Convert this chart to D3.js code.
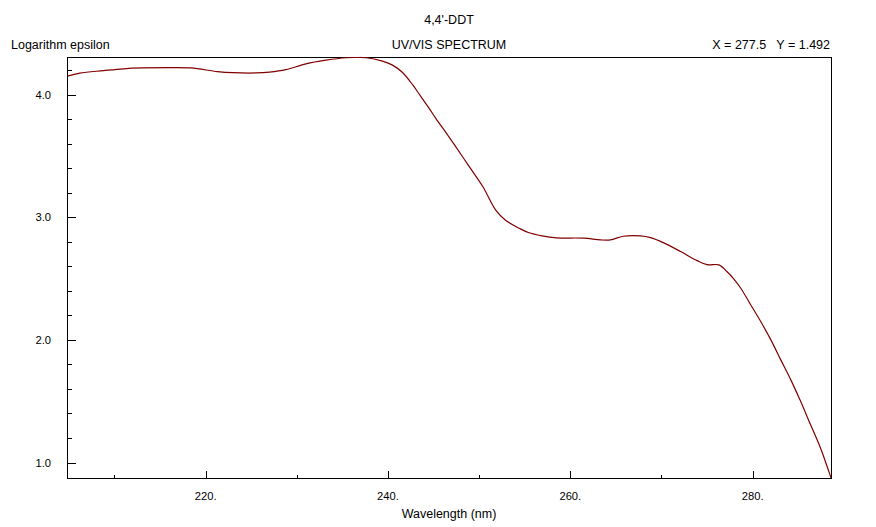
<!DOCTYPE html>
<html>
<head>
<meta charset="utf-8">
<script src="https://cdn.jsdelivr.net/npm/d3@7"></script>
<style>
  html, body { margin: 0; padding: 0; background: #fff; }
  svg { display: block; }
  text { font-family: "Liberation Sans", Arial, sans-serif; fill: #000; }
</style>
</head>
<body>
<svg id="chart" width="876" height="527"></svg>
<script>
const titleText = "4,4'-DDT";
const yLabel = "Logarithm epsilon";
const centerLabel = "UV/VIS SPECTRUM";
const cursorLabel = "X = 277.5   Y = 1.492";
const xLabel = "Wavelength (nm)";

const wavelength = [204.85, 206.2, 208.8, 211, 213, 216, 218.4, 221.3, 223, 225.5, 227, 228.8, 231, 233.2, 235.4, 236.5, 237.6, 239.4, 240.5, 241.6, 242.7, 243.6, 244.5, 245.3, 246.4, 247.3, 248.9, 250.4, 251.8, 252.9, 254.4, 255.4, 256.9, 258.5, 261.5, 263.3, 264.4, 265.8, 267.7, 268.8, 270.2, 272.1, 273.9, 275.0, 276.3, 277.2, 277.9, 278.7, 279.8, 280.9, 282.0, 283.1, 284.2, 285.2, 286.3, 287.4, 288.6];
const logEpsilon = [4.15, 4.175, 4.195, 4.21, 4.217, 4.22, 4.217, 4.187, 4.178, 4.176, 4.183, 4.203, 4.25, 4.28, 4.3, 4.302, 4.3, 4.272, 4.24, 4.18, 4.08, 3.985, 3.89, 3.8, 3.686, 3.59, 3.414, 3.25, 3.06, 2.975, 2.91, 2.875, 2.848, 2.832, 2.829, 2.815, 2.815, 2.845, 2.848, 2.834, 2.793, 2.72, 2.646, 2.613, 2.611, 2.555, 2.5, 2.421, 2.284, 2.148, 2.0, 1.835, 1.672, 1.509, 1.318, 1.127, 0.875];

const xMajorTicks = [220, 240, 260, 280];
const xMinorTicks = [210, 230, 250, 270];
const yMajorTicks = [1.0, 2.0, 3.0, 4.0];
const yMinorTicks = [1.2, 1.4, 1.6, 1.8, 2.2, 2.4, 2.6, 2.8, 3.2, 3.4, 3.6, 3.8, 4.2];

const svg = d3.select("#chart");
const L = 67.5, R = 831.5, T = 57.5, B = 478.5;

const x = d3.scaleLinear().domain([204.85, 288.65]).range([L, R]);
const y = d3.scaleLinear().domain([0.87, 4.302]).range([B, T]);

// frame
svg.append("rect").attr("x", L).attr("y", T).attr("width", R - L).attr("height", B - T)
  .attr("fill", "none").attr("stroke", "#000").attr("stroke-width", 1);

// x axis ticks (pointing up into plot)
const xAxisMajor = d3.axisTop(x).tickValues(xMajorTicks).tickSize(8).tickFormat("");
const gx = svg.append("g").attr("transform", `translate(0,${B})`).call(xAxisMajor);
gx.select(".domain").remove();
const xAxisMinor = d3.axisTop(x).tickValues(xMinorTicks).tickSize(4).tickFormat("");
const gx2 = svg.append("g").attr("transform", `translate(0,${B})`).call(xAxisMinor);
gx2.select(".domain").remove();

svg.selectAll(".xlab").data(xMajorTicks).enter().append("text")
  .attr("x", d => x(d)).attr("y", 500).attr("text-anchor", "middle")
  .attr("font-size", 11.2).text(d => d + ".");

// y axis ticks (pointing right into plot)
const yAxisMajor = d3.axisRight(y).tickValues(yMajorTicks).tickSize(8).tickFormat("");
const gy = svg.append("g").attr("transform", `translate(${L},0)`).call(yAxisMajor);
gy.select(".domain").remove();
const yAxisMinor = d3.axisRight(y).tickValues(yMinorTicks).tickSize(4).tickFormat("");
const gy2 = svg.append("g").attr("transform", `translate(${L},0)`).call(yAxisMinor);
gy2.select(".domain").remove();

svg.selectAll(".ylab").data(yMajorTicks).enter().append("text")
  .attr("x", 51).attr("y", d => y(d) + 4).attr("text-anchor", "end")
  .attr("font-size", 11.2).text(d => d.toFixed(1));

svg.selectAll(".tick line").attr("stroke", "#000").attr("shape-rendering", "crispEdges");

// clip
svg.append("clipPath").attr("id", "clip").append("rect")
  .attr("x", L).attr("y", T - 1).attr("width", R - L + 1).attr("height", B - T + 2);

const data = wavelength.map((w, i) => [w, logEpsilon[i]]);
const line = d3.line().x(d => x(d[0])).y(d => y(d[1])).curve(d3.curveCatmullRom.alpha(0.5));
svg.append("path").datum(data).attr("d", line).attr("fill", "none")
  .attr("stroke", "#800000").attr("stroke-width", 1.2).attr("clip-path", "url(#clip)");

// texts
const fs = 12.5;
svg.append("text").attr("x", 449).attr("y", 24).attr("text-anchor", "middle").attr("font-size", fs).text(titleText);
svg.append("text").attr("x", 11).attr("y", 49).attr("text-anchor", "start").attr("font-size", fs).text(yLabel);
svg.append("text").attr("x", 449).attr("y", 49).attr("text-anchor", "middle").attr("font-size", fs).text(centerLabel);
svg.append("text").attr("x", 830).attr("y", 49).attr("text-anchor", "end").attr("font-size", fs)
  .attr("xml:space", "preserve").style("white-space", "pre").text(cursorLabel);
svg.append("text").attr("x", 449).attr("y", 518).attr("text-anchor", "middle").attr("font-size", fs).text(xLabel);
</script>
</body>
</html>
